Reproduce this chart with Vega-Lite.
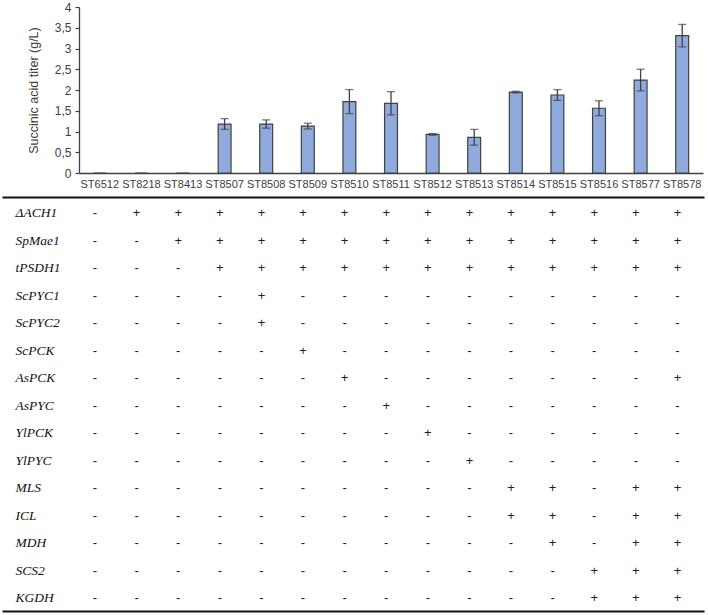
{
  "$schema": "https://vega.github.io/schema/vega-lite/v6.json",
  "width": 708,
  "height": 615,
  "autosize": {"type": "none"},
  "padding": 0,
  "config": {"view": {"stroke": null}, "font": "Liberation Sans"},
  "datasets": {
    "bars": [
      {"strain": "ST6512", "value": 0, "lo": null, "hi": null},
      {"strain": "ST8218", "value": 0, "lo": null, "hi": null},
      {"strain": "ST8413", "value": 0, "lo": null, "hi": null},
      {"strain": "ST8507", "value": 1.18, "lo": 1.05, "hi": 1.31},
      {"strain": "ST8508", "value": 1.18, "lo": 1.08, "hi": 1.28},
      {"strain": "ST8509", "value": 1.13, "lo": 1.06, "hi": 1.2},
      {"strain": "ST8510", "value": 1.72, "lo": 1.43, "hi": 2.01},
      {"strain": "ST8511", "value": 1.68, "lo": 1.4, "hi": 1.96},
      {"strain": "ST8512", "value": 0.93, "lo": 0.91, "hi": 0.95},
      {"strain": "ST8513", "value": 0.86, "lo": 0.67, "hi": 1.05},
      {"strain": "ST8514", "value": 1.95, "lo": 1.93, "hi": 1.97},
      {"strain": "ST8515", "value": 1.88, "lo": 1.75, "hi": 2.01},
      {"strain": "ST8516", "value": 1.56, "lo": 1.38, "hi": 1.74},
      {"strain": "ST8577", "value": 2.24, "lo": 1.98, "hi": 2.5},
      {"strain": "ST8578", "value": 3.31, "lo": 3.04, "hi": 3.58}
    ],
    "table": [
      {"gene": "ΔACH1", "strain": "ST6512", "sign": "-"}, {"gene": "ΔACH1", "strain": "ST8218", "sign": "+"}, {"gene": "ΔACH1", "strain": "ST8413", "sign": "+"}, {"gene": "ΔACH1", "strain": "ST8507", "sign": "+"}, {"gene": "ΔACH1", "strain": "ST8508", "sign": "+"}, {"gene": "ΔACH1", "strain": "ST8509", "sign": "+"}, {"gene": "ΔACH1", "strain": "ST8510", "sign": "+"}, {"gene": "ΔACH1", "strain": "ST8511", "sign": "+"}, {"gene": "ΔACH1", "strain": "ST8512", "sign": "+"}, {"gene": "ΔACH1", "strain": "ST8513", "sign": "+"}, {"gene": "ΔACH1", "strain": "ST8514", "sign": "+"}, {"gene": "ΔACH1", "strain": "ST8515", "sign": "+"}, {"gene": "ΔACH1", "strain": "ST8516", "sign": "+"}, {"gene": "ΔACH1", "strain": "ST8577", "sign": "+"}, {"gene": "ΔACH1", "strain": "ST8578", "sign": "+"},
      {"gene": "SpMae1", "strain": "ST6512", "sign": "-"}, {"gene": "SpMae1", "strain": "ST8218", "sign": "-"}, {"gene": "SpMae1", "strain": "ST8413", "sign": "+"}, {"gene": "SpMae1", "strain": "ST8507", "sign": "+"}, {"gene": "SpMae1", "strain": "ST8508", "sign": "+"}, {"gene": "SpMae1", "strain": "ST8509", "sign": "+"}, {"gene": "SpMae1", "strain": "ST8510", "sign": "+"}, {"gene": "SpMae1", "strain": "ST8511", "sign": "+"}, {"gene": "SpMae1", "strain": "ST8512", "sign": "+"}, {"gene": "SpMae1", "strain": "ST8513", "sign": "+"}, {"gene": "SpMae1", "strain": "ST8514", "sign": "+"}, {"gene": "SpMae1", "strain": "ST8515", "sign": "+"}, {"gene": "SpMae1", "strain": "ST8516", "sign": "+"}, {"gene": "SpMae1", "strain": "ST8577", "sign": "+"}, {"gene": "SpMae1", "strain": "ST8578", "sign": "+"},
      {"gene": "tPSDH1", "strain": "ST6512", "sign": "-"}, {"gene": "tPSDH1", "strain": "ST8218", "sign": "-"}, {"gene": "tPSDH1", "strain": "ST8413", "sign": "-"}, {"gene": "tPSDH1", "strain": "ST8507", "sign": "+"}, {"gene": "tPSDH1", "strain": "ST8508", "sign": "+"}, {"gene": "tPSDH1", "strain": "ST8509", "sign": "+"}, {"gene": "tPSDH1", "strain": "ST8510", "sign": "+"}, {"gene": "tPSDH1", "strain": "ST8511", "sign": "+"}, {"gene": "tPSDH1", "strain": "ST8512", "sign": "+"}, {"gene": "tPSDH1", "strain": "ST8513", "sign": "+"}, {"gene": "tPSDH1", "strain": "ST8514", "sign": "+"}, {"gene": "tPSDH1", "strain": "ST8515", "sign": "+"}, {"gene": "tPSDH1", "strain": "ST8516", "sign": "+"}, {"gene": "tPSDH1", "strain": "ST8577", "sign": "+"}, {"gene": "tPSDH1", "strain": "ST8578", "sign": "+"},
      {"gene": "ScPYC1", "strain": "ST6512", "sign": "-"}, {"gene": "ScPYC1", "strain": "ST8218", "sign": "-"}, {"gene": "ScPYC1", "strain": "ST8413", "sign": "-"}, {"gene": "ScPYC1", "strain": "ST8507", "sign": "-"}, {"gene": "ScPYC1", "strain": "ST8508", "sign": "+"}, {"gene": "ScPYC1", "strain": "ST8509", "sign": "-"}, {"gene": "ScPYC1", "strain": "ST8510", "sign": "-"}, {"gene": "ScPYC1", "strain": "ST8511", "sign": "-"}, {"gene": "ScPYC1", "strain": "ST8512", "sign": "-"}, {"gene": "ScPYC1", "strain": "ST8513", "sign": "-"}, {"gene": "ScPYC1", "strain": "ST8514", "sign": "-"}, {"gene": "ScPYC1", "strain": "ST8515", "sign": "-"}, {"gene": "ScPYC1", "strain": "ST8516", "sign": "-"}, {"gene": "ScPYC1", "strain": "ST8577", "sign": "-"}, {"gene": "ScPYC1", "strain": "ST8578", "sign": "-"},
      {"gene": "ScPYC2", "strain": "ST6512", "sign": "-"}, {"gene": "ScPYC2", "strain": "ST8218", "sign": "-"}, {"gene": "ScPYC2", "strain": "ST8413", "sign": "-"}, {"gene": "ScPYC2", "strain": "ST8507", "sign": "-"}, {"gene": "ScPYC2", "strain": "ST8508", "sign": "+"}, {"gene": "ScPYC2", "strain": "ST8509", "sign": "-"}, {"gene": "ScPYC2", "strain": "ST8510", "sign": "-"}, {"gene": "ScPYC2", "strain": "ST8511", "sign": "-"}, {"gene": "ScPYC2", "strain": "ST8512", "sign": "-"}, {"gene": "ScPYC2", "strain": "ST8513", "sign": "-"}, {"gene": "ScPYC2", "strain": "ST8514", "sign": "-"}, {"gene": "ScPYC2", "strain": "ST8515", "sign": "-"}, {"gene": "ScPYC2", "strain": "ST8516", "sign": "-"}, {"gene": "ScPYC2", "strain": "ST8577", "sign": "-"}, {"gene": "ScPYC2", "strain": "ST8578", "sign": "-"},
      {"gene": "ScPCK", "strain": "ST6512", "sign": "-"}, {"gene": "ScPCK", "strain": "ST8218", "sign": "-"}, {"gene": "ScPCK", "strain": "ST8413", "sign": "-"}, {"gene": "ScPCK", "strain": "ST8507", "sign": "-"}, {"gene": "ScPCK", "strain": "ST8508", "sign": "-"}, {"gene": "ScPCK", "strain": "ST8509", "sign": "+"}, {"gene": "ScPCK", "strain": "ST8510", "sign": "-"}, {"gene": "ScPCK", "strain": "ST8511", "sign": "-"}, {"gene": "ScPCK", "strain": "ST8512", "sign": "-"}, {"gene": "ScPCK", "strain": "ST8513", "sign": "-"}, {"gene": "ScPCK", "strain": "ST8514", "sign": "-"}, {"gene": "ScPCK", "strain": "ST8515", "sign": "-"}, {"gene": "ScPCK", "strain": "ST8516", "sign": "-"}, {"gene": "ScPCK", "strain": "ST8577", "sign": "-"}, {"gene": "ScPCK", "strain": "ST8578", "sign": "-"},
      {"gene": "AsPCK", "strain": "ST6512", "sign": "-"}, {"gene": "AsPCK", "strain": "ST8218", "sign": "-"}, {"gene": "AsPCK", "strain": "ST8413", "sign": "-"}, {"gene": "AsPCK", "strain": "ST8507", "sign": "-"}, {"gene": "AsPCK", "strain": "ST8508", "sign": "-"}, {"gene": "AsPCK", "strain": "ST8509", "sign": "-"}, {"gene": "AsPCK", "strain": "ST8510", "sign": "+"}, {"gene": "AsPCK", "strain": "ST8511", "sign": "-"}, {"gene": "AsPCK", "strain": "ST8512", "sign": "-"}, {"gene": "AsPCK", "strain": "ST8513", "sign": "-"}, {"gene": "AsPCK", "strain": "ST8514", "sign": "-"}, {"gene": "AsPCK", "strain": "ST8515", "sign": "-"}, {"gene": "AsPCK", "strain": "ST8516", "sign": "-"}, {"gene": "AsPCK", "strain": "ST8577", "sign": "-"}, {"gene": "AsPCK", "strain": "ST8578", "sign": "+"},
      {"gene": "AsPYC", "strain": "ST6512", "sign": "-"}, {"gene": "AsPYC", "strain": "ST8218", "sign": "-"}, {"gene": "AsPYC", "strain": "ST8413", "sign": "-"}, {"gene": "AsPYC", "strain": "ST8507", "sign": "-"}, {"gene": "AsPYC", "strain": "ST8508", "sign": "-"}, {"gene": "AsPYC", "strain": "ST8509", "sign": "-"}, {"gene": "AsPYC", "strain": "ST8510", "sign": "-"}, {"gene": "AsPYC", "strain": "ST8511", "sign": "+"}, {"gene": "AsPYC", "strain": "ST8512", "sign": "-"}, {"gene": "AsPYC", "strain": "ST8513", "sign": "-"}, {"gene": "AsPYC", "strain": "ST8514", "sign": "-"}, {"gene": "AsPYC", "strain": "ST8515", "sign": "-"}, {"gene": "AsPYC", "strain": "ST8516", "sign": "-"}, {"gene": "AsPYC", "strain": "ST8577", "sign": "-"}, {"gene": "AsPYC", "strain": "ST8578", "sign": "-"},
      {"gene": "YlPCK", "strain": "ST6512", "sign": "-"}, {"gene": "YlPCK", "strain": "ST8218", "sign": "-"}, {"gene": "YlPCK", "strain": "ST8413", "sign": "-"}, {"gene": "YlPCK", "strain": "ST8507", "sign": "-"}, {"gene": "YlPCK", "strain": "ST8508", "sign": "-"}, {"gene": "YlPCK", "strain": "ST8509", "sign": "-"}, {"gene": "YlPCK", "strain": "ST8510", "sign": "-"}, {"gene": "YlPCK", "strain": "ST8511", "sign": "-"}, {"gene": "YlPCK", "strain": "ST8512", "sign": "+"}, {"gene": "YlPCK", "strain": "ST8513", "sign": "-"}, {"gene": "YlPCK", "strain": "ST8514", "sign": "-"}, {"gene": "YlPCK", "strain": "ST8515", "sign": "-"}, {"gene": "YlPCK", "strain": "ST8516", "sign": "-"}, {"gene": "YlPCK", "strain": "ST8577", "sign": "-"}, {"gene": "YlPCK", "strain": "ST8578", "sign": "-"},
      {"gene": "YlPYC", "strain": "ST6512", "sign": "-"}, {"gene": "YlPYC", "strain": "ST8218", "sign": "-"}, {"gene": "YlPYC", "strain": "ST8413", "sign": "-"}, {"gene": "YlPYC", "strain": "ST8507", "sign": "-"}, {"gene": "YlPYC", "strain": "ST8508", "sign": "-"}, {"gene": "YlPYC", "strain": "ST8509", "sign": "-"}, {"gene": "YlPYC", "strain": "ST8510", "sign": "-"}, {"gene": "YlPYC", "strain": "ST8511", "sign": "-"}, {"gene": "YlPYC", "strain": "ST8512", "sign": "-"}, {"gene": "YlPYC", "strain": "ST8513", "sign": "+"}, {"gene": "YlPYC", "strain": "ST8514", "sign": "-"}, {"gene": "YlPYC", "strain": "ST8515", "sign": "-"}, {"gene": "YlPYC", "strain": "ST8516", "sign": "-"}, {"gene": "YlPYC", "strain": "ST8577", "sign": "-"}, {"gene": "YlPYC", "strain": "ST8578", "sign": "-"},
      {"gene": "MLS", "strain": "ST6512", "sign": "-"}, {"gene": "MLS", "strain": "ST8218", "sign": "-"}, {"gene": "MLS", "strain": "ST8413", "sign": "-"}, {"gene": "MLS", "strain": "ST8507", "sign": "-"}, {"gene": "MLS", "strain": "ST8508", "sign": "-"}, {"gene": "MLS", "strain": "ST8509", "sign": "-"}, {"gene": "MLS", "strain": "ST8510", "sign": "-"}, {"gene": "MLS", "strain": "ST8511", "sign": "-"}, {"gene": "MLS", "strain": "ST8512", "sign": "-"}, {"gene": "MLS", "strain": "ST8513", "sign": "-"}, {"gene": "MLS", "strain": "ST8514", "sign": "+"}, {"gene": "MLS", "strain": "ST8515", "sign": "+"}, {"gene": "MLS", "strain": "ST8516", "sign": "-"}, {"gene": "MLS", "strain": "ST8577", "sign": "+"}, {"gene": "MLS", "strain": "ST8578", "sign": "+"},
      {"gene": "ICL", "strain": "ST6512", "sign": "-"}, {"gene": "ICL", "strain": "ST8218", "sign": "-"}, {"gene": "ICL", "strain": "ST8413", "sign": "-"}, {"gene": "ICL", "strain": "ST8507", "sign": "-"}, {"gene": "ICL", "strain": "ST8508", "sign": "-"}, {"gene": "ICL", "strain": "ST8509", "sign": "-"}, {"gene": "ICL", "strain": "ST8510", "sign": "-"}, {"gene": "ICL", "strain": "ST8511", "sign": "-"}, {"gene": "ICL", "strain": "ST8512", "sign": "-"}, {"gene": "ICL", "strain": "ST8513", "sign": "-"}, {"gene": "ICL", "strain": "ST8514", "sign": "+"}, {"gene": "ICL", "strain": "ST8515", "sign": "+"}, {"gene": "ICL", "strain": "ST8516", "sign": "-"}, {"gene": "ICL", "strain": "ST8577", "sign": "+"}, {"gene": "ICL", "strain": "ST8578", "sign": "+"},
      {"gene": "MDH", "strain": "ST6512", "sign": "-"}, {"gene": "MDH", "strain": "ST8218", "sign": "-"}, {"gene": "MDH", "strain": "ST8413", "sign": "-"}, {"gene": "MDH", "strain": "ST8507", "sign": "-"}, {"gene": "MDH", "strain": "ST8508", "sign": "-"}, {"gene": "MDH", "strain": "ST8509", "sign": "-"}, {"gene": "MDH", "strain": "ST8510", "sign": "-"}, {"gene": "MDH", "strain": "ST8511", "sign": "-"}, {"gene": "MDH", "strain": "ST8512", "sign": "-"}, {"gene": "MDH", "strain": "ST8513", "sign": "-"}, {"gene": "MDH", "strain": "ST8514", "sign": "-"}, {"gene": "MDH", "strain": "ST8515", "sign": "+"}, {"gene": "MDH", "strain": "ST8516", "sign": "-"}, {"gene": "MDH", "strain": "ST8577", "sign": "+"}, {"gene": "MDH", "strain": "ST8578", "sign": "+"},
      {"gene": "SCS2", "strain": "ST6512", "sign": "-"}, {"gene": "SCS2", "strain": "ST8218", "sign": "-"}, {"gene": "SCS2", "strain": "ST8413", "sign": "-"}, {"gene": "SCS2", "strain": "ST8507", "sign": "-"}, {"gene": "SCS2", "strain": "ST8508", "sign": "-"}, {"gene": "SCS2", "strain": "ST8509", "sign": "-"}, {"gene": "SCS2", "strain": "ST8510", "sign": "-"}, {"gene": "SCS2", "strain": "ST8511", "sign": "-"}, {"gene": "SCS2", "strain": "ST8512", "sign": "-"}, {"gene": "SCS2", "strain": "ST8513", "sign": "-"}, {"gene": "SCS2", "strain": "ST8514", "sign": "-"}, {"gene": "SCS2", "strain": "ST8515", "sign": "-"}, {"gene": "SCS2", "strain": "ST8516", "sign": "+"}, {"gene": "SCS2", "strain": "ST8577", "sign": "+"}, {"gene": "SCS2", "strain": "ST8578", "sign": "+"},
      {"gene": "KGDH", "strain": "ST6512", "sign": "-"}, {"gene": "KGDH", "strain": "ST8218", "sign": "-"}, {"gene": "KGDH", "strain": "ST8413", "sign": "-"}, {"gene": "KGDH", "strain": "ST8507", "sign": "-"}, {"gene": "KGDH", "strain": "ST8508", "sign": "-"}, {"gene": "KGDH", "strain": "ST8509", "sign": "-"}, {"gene": "KGDH", "strain": "ST8510", "sign": "-"}, {"gene": "KGDH", "strain": "ST8511", "sign": "-"}, {"gene": "KGDH", "strain": "ST8512", "sign": "-"}, {"gene": "KGDH", "strain": "ST8513", "sign": "-"}, {"gene": "KGDH", "strain": "ST8514", "sign": "-"}, {"gene": "KGDH", "strain": "ST8515", "sign": "-"}, {"gene": "KGDH", "strain": "ST8516", "sign": "+"}, {"gene": "KGDH", "strain": "ST8577", "sign": "+"}, {"gene": "KGDH", "strain": "ST8578", "sign": "+"}
    ]
  },
  "layer": [
    {
      "data": {"name": "bars"},
      "layer": [
        {
          "mark": {"type": "bar", "fill": "#8FAADC", "stroke": "#404040", "strokeWidth": 1.2},
          "encoding": {
            "x": {
              "field": "strain", "type": "nominal", "sort": null,
              "scale": {"type": "band", "range": [79, 703], "paddingInner": 0.69, "paddingOuter": 0.345},
              "axis": {
                "orient": "bottom", "offset": -442, "title": null, "labelAngle": 0,
                "ticks": false, "tickSize": 0, "labelPadding": 5,
                "labelFont": "Liberation Sans", "labelFontSize": 11, "labelColor": "#404040",
                "domainColor": "#404040", "domainWidth": 1.5, "grid": false
              }
            },
            "y": {
              "field": "value", "type": "quantitative",
              "title": "Succinic acid titer (g/L)",
              "scale": {"domain": [0, 4], "range": [173, 7], "nice": false},
              "axis": {
                "orient": "left", "offset": -79, "values": [0, 0.5, 1, 1.5, 2, 2.5, 3, 3.5, 4],
                "labelExpr": "replace(format(datum.value, '~g'), '.', ',')",
                "grid": false, "tickSize": 4, "tickColor": "#404040", "tickWidth": 1.2,
                "domainColor": "#404040", "domainWidth": 1.3, "labelPadding": 4,
                "labelFont": "Liberation Sans", "labelFontSize": 12, "labelColor": "#404040",
                "titleFont": "Liberation Sans", "titleFontSize": 12.5, "titleFontWeight": "normal",
                "titleColor": "#404040", "titlePadding": 14
              }
            }
          }
        },
        {
          "mark": {"type": "rule", "color": "#404040", "strokeWidth": 1.3},
          "encoding": {
            "x": {"field": "strain", "type": "nominal", "sort": null, "title": null},
            "y": {"field": "lo", "type": "quantitative", "title": "Succinic acid titer (g/L)"},
            "y2": {"field": "hi"}
          }
        },
        {
          "mark": {"type": "tick", "color": "#404040", "thickness": 1.3, "size": 8},
          "encoding": {
            "x": {"field": "strain", "type": "nominal", "sort": null, "title": null},
            "y": {"field": "lo", "type": "quantitative", "title": "Succinic acid titer (g/L)"}
          }
        },
        {
          "mark": {"type": "tick", "color": "#404040", "thickness": 1.3, "size": 8},
          "encoding": {
            "x": {"field": "strain", "type": "nominal", "sort": null, "title": null},
            "y": {"field": "hi", "type": "quantitative", "title": "Succinic acid titer (g/L)"}
          }
        }
      ]
    },
    {
      "data": {"name": "table"},
      "layer": [
        {
          "mark": {"type": "text", "font": "Liberation Sans", "fontSize": 13, "color": "#222222", "baseline": "middle"},
          "encoding": {
            "x": {
              "field": "strain", "type": "nominal", "sort": null,
              "scale": {"type": "band", "range": [2, 704], "paddingInner": 0, "paddingOuter": 0.9375, "align": 0.926},
              "axis": {"orient": "top", "offset": -197, "labels": false, "ticks": false, "title": null,
                       "domainColor": "#111111", "domainWidth": 1.8, "grid": false}
            },
            "y": {
              "field": "gene", "type": "nominal", "sort": null,
              "scale": {"type": "band", "range": [199.25, 611.75], "paddingInner": 0, "paddingOuter": 0},
              "axis": {"orient": "left", "offset": 0, "title": null, "domain": false, "ticks": false,
                       "tickSize": 0, "labelPadding": -15, "labelAlign": "left", "labelBaseline": "middle",
                       "labelFont": "Liberation Serif", "labelFontStyle": "italic", "labelFontSize": 13.5,
                       "labelColor": "#111111", "grid": false}
            },
            "text": {"field": "sign"}
          }
        },
        {
          "mark": {"type": "text", "opacity": 0},
          "encoding": {
            "x": {
              "field": "strain", "type": "nominal", "sort": null,
              "axis": {"orient": "bottom", "offset": -4, "labels": false, "ticks": false, "title": null,
                       "domainColor": "#111111", "domainWidth": 1.8, "grid": false}
            },
            "y": {"field": "gene", "type": "nominal", "sort": null},
            "text": {"field": "sign"}
          }
        }
      ],
      "resolve": {"axis": {"x": "independent"}}
    }
  ],
  "resolve": {
    "scale": {"x": "independent", "y": "independent"},
    "axis": {"x": "independent", "y": "independent"}
  }
}
